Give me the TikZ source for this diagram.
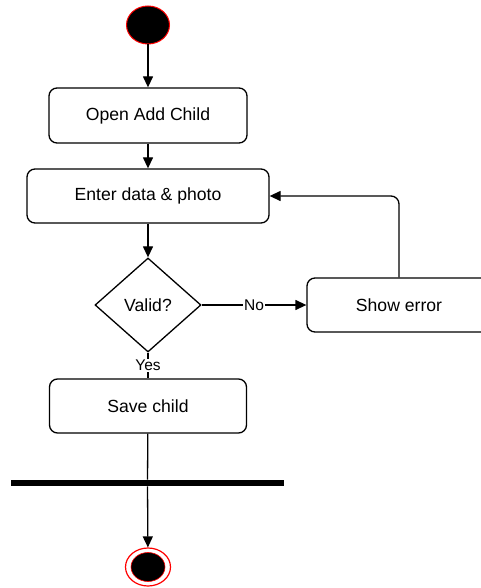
\documentclass[tikz,border=0pt]{standalone}
\usepackage{fontspec}
\setmainfont{Liberation Sans}
\usetikzlibrary{shapes.geometric,arrows.meta}
\begin{document}
\begin{tikzpicture}[x=1pt,y=-1pt,
 box/.style={draw, rounded corners=8pt, line width=1.3pt, fill=white, inner sep=0pt, font=\fontsize{17.6}{20}\selectfont},
 arr/.style={line width=1.3pt, -{Triangle[length=11pt,width=10pt]}},
 ln/.style={line width=1.3pt},
 lbl/.style={fill=white, inner sep=1pt, font=\fontsize{15.5}{18}\selectfont}]
\useasboundingbox (0,0) rectangle (481,588);
\clip (0,0) rectangle (481,588);
\node[ellipse, draw=red, fill=black, line width=1pt, minimum width=43pt, minimum height=38pt, inner sep=0pt] (start) at (148,25) {};
\node[box, minimum width=198pt, minimum height=55pt] (open) at (148,115.5) {Open Add Child};
\node[box, minimum width=242pt, minimum height=54pt] (enter) at (148,196) {Enter data \& photo};
\node[diamond, draw, line width=1.3pt, minimum width=106pt, minimum height=94pt, inner sep=0pt, fill=white, font=\fontsize{17.6}{20}\selectfont] (valid) at (148,305) {Valid?};
\node[box, minimum width=184pt, minimum height=54pt] (err) at (399,305) {Show error};
\node[box, minimum width=197pt, minimum height=54pt] (save) at (148,406) {Save child};
\node[fill=black, minimum width=273pt, minimum height=6.5pt, inner sep=0pt] (bar) at (147.5,483) {};
\node[ellipse, draw=red, fill=white, line width=1.2pt, minimum width=45pt, minimum height=38pt, inner sep=0pt] (endo) at (148,567) {};
\node[ellipse, draw=red, fill=black, line width=0.6pt, minimum width=34pt, minimum height=29pt, inner sep=0pt] (endi) at (endo.center) {};
\draw[arr] (start) -- (open);
\draw[arr] (open) -- (enter);
\draw[arr] (enter) -- (valid);
\draw[arr] (valid) -- node[lbl]{No} (err);
\draw[arr, rounded corners=8pt] (err.north) |- (enter.east);
\draw[ln] (valid) -- node[lbl]{Yes} (save);
\draw[ln] (save) -- (bar);
\draw[arr] (bar) -- (endo);
\end{tikzpicture}
\end{document}
